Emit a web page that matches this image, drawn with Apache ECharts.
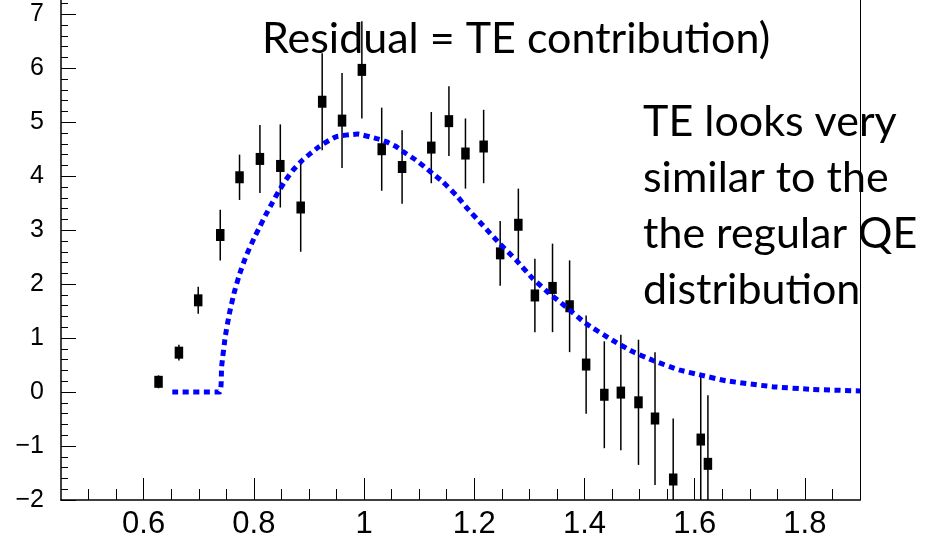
<!DOCTYPE html>
<html>
<head>
<meta charset="utf-8">
<script src="https://cdn.jsdelivr.net/npm/echarts@6/dist/echarts.min.js"></script>
<style>
  html, body { margin: 0; padding: 0; background: #fff; }
  #chart { width: 925px; height: 541px; }
</style>
</head>
<body>
<div id="chart"></div>
<script>
// Residual per bin (data minus fit) with its statistical error
const binCentres = [0.627, 0.664, 0.699, 0.739, 0.774, 0.811, 0.848, 0.885, 0.924, 0.960,
                    0.996, 1.032, 1.069, 1.122, 1.154, 1.184, 1.217, 1.247, 1.280, 1.310,
                    1.342, 1.373, 1.403, 1.436, 1.466, 1.498, 1.528, 1.561, 1.611, 1.624];
const residuals  = [0.19, 0.73, 1.70, 2.91, 3.98, 4.32, 4.19, 3.42, 5.38, 5.03,
                    5.97, 4.50, 4.17, 4.53, 5.02, 4.42, 4.55, 2.57, 3.10, 1.79,
                    1.93, 1.59, 0.51, -0.05, -0.01, -0.19, -0.49, -1.62, -0.88, -1.33];
const residualErrors = [0.12, 0.145, 0.25, 0.47, 0.42, 0.63, 0.77, 0.82, 0.90, 0.88,
                        0.90, 0.77, 0.68, 0.66, 0.645, 0.65, 0.68, 0.60, 0.67, 0.68,
                        0.82, 0.85, 0.91, 0.99, 1.07, 1.16, 1.23, 1.13, 1.24, 1.27];

// QE-shaped template curve (dashed blue)
const curveX = [0.652, 0.738, 0.7415, 0.748, 0.7555, 0.7645, 0.7736, 0.7858, 0.8008, 0.810,
                0.8208, 0.833, 0.845, 0.858, 0.870, 0.8885, 0.9188, 0.949, 0.9882, 1.0216,
                1.040, 1.058, 1.076, 1.094, 1.1093, 1.1243, 1.1425, 1.1697, 1.185, 1.215,
                1.2453, 1.2756, 1.3057, 1.336, 1.3663, 1.4013, 1.4509, 1.4872, 1.5234, 1.5719,
                1.6112, 1.6566, 1.7411, 1.8137, 1.900];
const curveY = [0, 0, 0.47, 1.02, 1.45, 1.85, 2.17, 2.52, 2.86, 3.05,
                3.27, 3.50, 3.72, 3.93, 4.10, 4.30, 4.55, 4.73, 4.78, 4.70,
                4.64, 4.55, 4.42, 4.30, 4.175, 4.05, 3.90, 3.62, 3.43, 3.095,
                2.76, 2.45, 2.11, 1.83, 1.58, 1.28, 0.96, 0.75, 0.59, 0.41,
                0.315, 0.21, 0.10, 0.05, 0.02];

// Axis ticks
const xMajorTicks = [0.6, 0.8, 1, 1.2, 1.4, 1.6, 1.8];
const xMinorTicks = [0.5, 0.55, 0.65, 0.7, 0.75, 0.85, 0.9, 0.95, 1.05, 1.1, 1.15,
                     1.25, 1.3, 1.35, 1.45, 1.5, 1.55, 1.65, 1.7, 1.75, 1.85];
const yMajorTicks = [-2, -1, 0, 1, 2, 3, 4, 5, 6, 7];
const yMinorTicks = [-1.8, -1.6, -1.4, -1.2, -0.8, -0.6, -0.4, -0.2, 0.2, 0.4, 0.6, 0.8,
                     1.2, 1.4, 1.6, 1.8, 2.2, 2.4, 2.6, 2.8, 3.2, 3.4, 3.6, 3.8,
                     4.2, 4.4, 4.6, 4.8, 5.2, 5.4, 5.6, 5.8, 6.2, 6.4, 6.6, 6.8, 7.2];

const titleText = 'Residual = TE contribution)';
const noteLines = ['TE looks very', 'similar to the', 'the regular QE', 'distribution'];

const X_MIN = 0.45, X_MAX = 1.9, Y_MIN = -2, Y_MAX = 7.265;

const points = binCentres.map((x, i) => [x, residuals[i], residualErrors[i]]);
const curve = curveX.map((x, i) => [x, curveY[i]]);

const axisColor = '#000';
const noteFont = 'Lato, "Open Sans", "Noto Sans", sans-serif';

const chart = echarts.init(document.getElementById('chart'), null, { renderer: 'canvas' });

const baseX = {
  type: 'value', min: X_MIN, max: X_MAX, position: 'bottom',
  splitLine: { show: false }
};
const baseY = {
  type: 'value', min: Y_MIN, max: Y_MAX, position: 'left',
  splitLine: { show: false }
};

const option = {
  animation: false,
  backgroundColor: '#fff',
  grid: { left: 61, right: 65, top: 0, bottom: 41, containLabel: false, outerBoundsMode: 'none' },
  xAxis: [
    Object.assign({}, baseX, {
      axisLine: { show: true, onZero: false, lineStyle: { color: axisColor, width: 1.5 } },
      axisTick: { show: true, inside: true, length: 22, customValues: xMajorTicks,
                  lineStyle: { color: axisColor, width: 1 } },
      axisLabel: { show: true, customValues: xMajorTicks, margin: 9, color: '#000',
                   fontFamily: '"Liberation Sans Narrow", "Liberation Sans", sans-serif',
                   fontSize: 31, formatter: v => String(+v.toFixed(2)) }
    }),
    Object.assign({}, baseX, {
      axisLine: { show: false, onZero: false },
      axisTick: { show: true, inside: true, length: 11, customValues: xMinorTicks,
                  lineStyle: { color: axisColor, width: 1 } },
      axisLabel: { show: false }
    })
  ],
  yAxis: [
    Object.assign({}, baseY, {
      axisLine: { show: true, onZero: false, lineStyle: { color: axisColor, width: 1.5 } },
      axisTick: { show: true, inside: true, length: 15, customValues: yMajorTicks,
                  lineStyle: { color: axisColor, width: 1 } },
      axisLabel: { show: true, customValues: yMajorTicks, margin: 17, color: '#000',
                   fontFamily: '"Liberation Sans", Arial, sans-serif', fontSize: 25,
                   formatter: v => (v < 0 ? '\u2212' + Math.abs(v) : String(v)) }
    }),
    Object.assign({}, baseY, {
      axisLine: { show: false, onZero: false },
      axisTick: { show: true, inside: true, length: 7, customValues: yMinorTicks,
                  lineStyle: { color: axisColor, width: 1 } },
      axisLabel: { show: false }
    }),
    Object.assign({}, baseY, {
      position: 'right',
      axisLine: { show: true, onZero: false, lineStyle: { color: axisColor, width: 1 } },
      axisTick: { show: false },
      axisLabel: { show: false }
    })
  ],
  series: [
    {
      // vertical error bars
      type: 'custom',
      clip: true,
      z: 2,
      data: points,
      encode: { x: 0, y: 1 },
      renderItem: function (params, api) {
        const x = api.value(0), y = api.value(1), e = api.value(2);
        const top = api.coord([x, y + e]);
        const bot = api.coord([x, y - e]);
        return {
          type: 'line',
          shape: { x1: top[0], y1: top[1], x2: bot[0], y2: bot[1] },
          style: { stroke: '#000', lineWidth: 1.5 }
        };
      }
    },
    {
      type: 'scatter',
      z: 3,
      data: points.map(p => [p[0], p[1]]),
      symbol: 'rect',
      symbolSize: [8.5, 12],
      itemStyle: { color: '#000', opacity: 1 }
    },
    {
      type: 'line',
      z: 4,
      data: curve,
      showSymbol: false,
      smooth: 0.15,
      clip: true,
      lineStyle: { color: '#0000ff', width: 5, type: [6, 4.5], cap: 'butt' }
    }
  ],
  graphic: [
    {
      type: 'text', left: 262, top: 18, z: 10,
      style: { text: titleText, font: '400 43px ' + noteFont, fill: '#000' }
    },
    {
      type: 'text', left: 643, top: 94, z: 10,
      style: { text: noteLines.join('\n'), font: '400 43px ' + noteFont, lineHeight: 56, fill: '#000' }
    }
  ]
};

chart.setOption(option);
</script>
</body>
</html>
